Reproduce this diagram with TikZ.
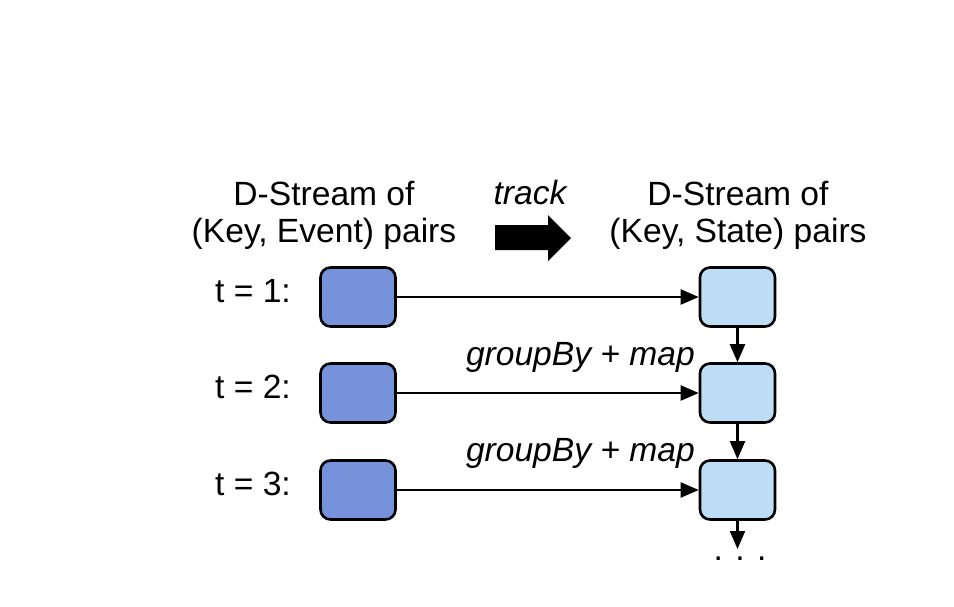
\documentclass[tikz,border=0pt]{standalone}
\usepackage{fontspec}
\setmainfont{Liberation Sans}
\usetikzlibrary{arrows.meta}
\definecolor{evfill}{HTML}{7592DA}
\definecolor{stfill}{HTML}{BDDCF5}
\begin{document}
\begin{tikzpicture}[x=1pt,y=-1pt,
  txt/.style={inner sep=0pt,font=\fontsize{33.6}{40}\selectfont},
  itxt/.style={txt,font=\fontsize{33.6}{40}\selectfont\itshape},
  evbox/.style={draw,line width=2.6pt,rounded corners=10pt,fill=evfill,minimum width=75pt,minimum height=59pt,inner sep=0pt},
  stbox/.style={draw,line width=2.6pt,rounded corners=10pt,fill=stfill,minimum width=75pt,minimum height=59pt,inner sep=0pt},
  conn/.style={line width=2.2pt,-{Triangle[length=18pt,width=15pt]}}]
\useasboundingbox (0,0) rectangle (954,606);
% headers
\node[txt,anchor=base] (h1a) at (324,205) {D-Stream of};
\node[txt,anchor=base] (h1b) at (324,242) {(Key, Event) pairs};
\node[txt,anchor=base] (h2a) at (738,205) {D-Stream of};
\node[txt,anchor=base] (h2b) at (738,242) {(Key, State) pairs};
\node[itxt,anchor=base] (trk) at (530,204) {track};
\fill (495,225) -- (548,225) -- (548,215) -- (571,238) -- (548,261) -- (548,250) -- (495,250) -- cycle;
% rows
\foreach \i/\y in {1/297,2/393,3/490} {
  \node[evbox] (e\i) at (358,\y) {};
  \node[stbox] (s\i) at (737.5,\y) {};
  \node[txt,anchor=base east] (t\i) at (291,\y+5) {t = \i:};
  \draw[conn] (e\i) -- (s\i);
}
\node[itxt,anchor=base east] (g1) at (695,365) {groupBy + map};
\node[itxt,anchor=base east] (g2) at (695,461) {groupBy + map};
\draw[conn] (s1) -- (s2);
\draw[conn] (s2) -- (s3);
\coordinate (endp) at (737.5,549);
\draw[conn] (s3) -- (endp);
\node[txt,anchor=base] (dots) at (740,560) {. . .};
\end{tikzpicture}
\end{document}
